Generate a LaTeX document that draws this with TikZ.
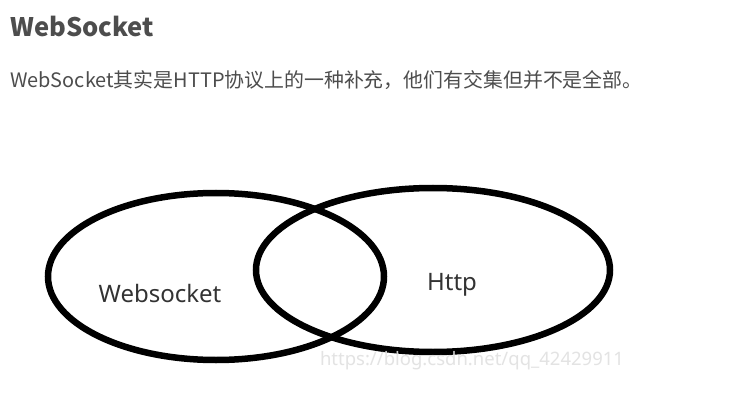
\documentclass[tikz,border=0pt]{standalone}
\usepackage{fontspec}
\usetikzlibrary{shapes.geometric}
\newfontfamily\cjk{Noto Sans CJK SC}
\newfontfamily\latinsans{Noto Sans}
\definecolor{txt}{HTML}{4D4D4D}
\definecolor{lbl}{HTML}{333333}
\tikzset{
  ring/.style={draw=black, line width=6.5pt, ellipse, inner sep=0pt, fill=none},
  lbltext/.style={text=lbl, font=\latinsans\fontsize{24}{28}\selectfont, inner sep=0pt},
}
\begin{document}
\begin{tikzpicture}[x=1pt,y=-1pt]
\useasboundingbox[fill=white] (0,0) rectangle (752,406);
\node[anchor=west, text=txt, inner sep=0pt, font=\cjk\bfseries\fontsize{25.5}{30}\selectfont] (title) at (10,26) {WebSocket};
\node[anchor=west, text=txt, inner sep=0pt, font=\cjk\fontsize{19.9}{24}\selectfont] (sub) at (10,80) {WebSocket其实是HTTP协议上的一种补充，他们有交集但并不是全部。};
\node[ring, minimum width=336pt, minimum height=167pt] (ws) at (216,276.5) {};
\node[ring, minimum width=354pt, minimum height=164pt] (http) at (433,270) {};
\node[lbltext] (wsl) at (160,293) {Websocket};
\node[lbltext] (httpl) at (452,285) {Http};
\node[text=white!88!black, opacity=0.9, inner sep=0pt, font=\latinsans\fontsize{18.5}{22}\selectfont] (wm) at (472,361) {https://blog.csdn.net/qq\_42429911};
\end{tikzpicture}
\end{document}
